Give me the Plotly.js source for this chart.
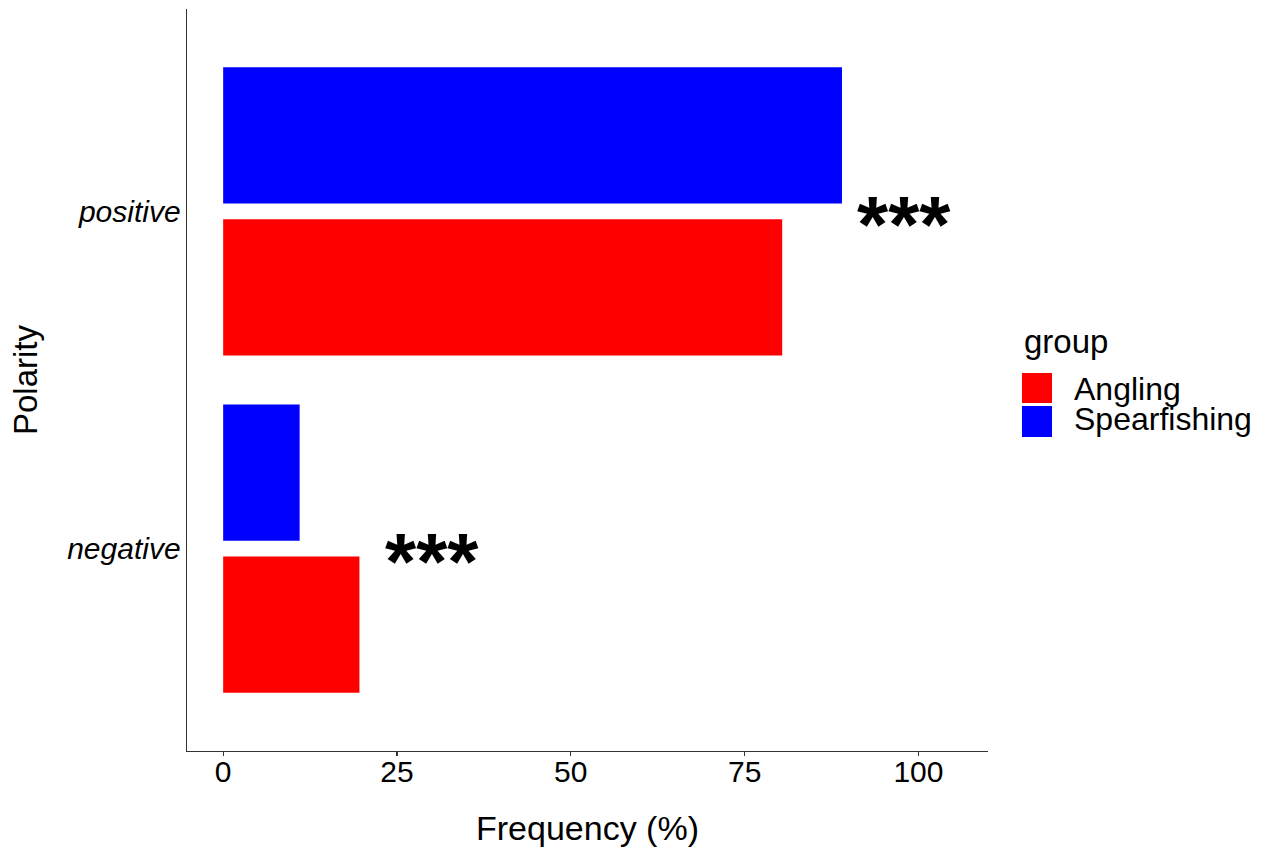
<!DOCTYPE html>
<html>
<head>
<meta charset="utf-8">
<script src="https://cdn.plot.ly/plotly-3.0.1.min.js"></script>
<style>
  html, body { margin: 0; padding: 0; background: #ffffff; }
  #chart { width: 1275px; height: 850px; }
</style>
</head>
<body>
<div id="chart"></div>
<script>
// ---- data ----
var categories = ["negative", "positive"];
var groups = ["Angling", "Spearfishing"];
var anglingValues = [19.6, 80.4];
var spearfishingValues = [11.0, 89.0];
var groupColors = ["#FF0000", "#0000FF"];
var sigLabels = ["***", "***"];
var sigX = [30.0, 97.9];
var xTicks = [0, 25, 50, 75, 100];

var FONT = "Liberation Sans, Arial, sans-serif";

var traces = [
  {
    type: "bar", orientation: "h", name: groups[0],
    y: categories, x: anglingValues,
    marker: { color: groupColors[0], line: { width: 0 } },
    hoverinfo: "x+y+name"
  },
  {
    type: "bar", orientation: "h", name: groups[1],
    y: categories, x: spearfishingValues,
    marker: { color: groupColors[1], line: { width: 0 } },
    hoverinfo: "x+y+name"
  }
];

var annotations = categories.map(function (c, i) {
  return {
    x: sigX[i], y: c, xref: "x", yref: "y",
    text: "<b>" + sigLabels[i] + "</b>", showarrow: false,
    xanchor: "center", yanchor: "middle", yshift: -13,
    font: { family: FONT, size: 80, color: "#000000" }
  };
});

// custom legend (large keys as in the reference)
annotations.push({
  x: 1.0424, y: 0.5519, xref: "paper", yref: "paper",
  text: "group", showarrow: false, xanchor: "left", yanchor: "middle",
  font: { family: FONT, size: 33, color: "#000000" }
});
var legendY = [0.4875, 0.4481];
groups.forEach(function (g, i) {
  annotations.push({
    x: 1.1049, y: legendY[i], xref: "paper", yref: "paper",
    text: g, showarrow: false, xanchor: "left", yanchor: "middle",
    font: { family: FONT, size: 32, color: "#000000" }
  });
});
var keyY = [[0.469, 0.5094], [0.4232, 0.4650]];
var shapes = groups.map(function (g, i) {
  return {
    type: "rect", xref: "paper", yref: "paper",
    x0: 1.0424, x1: 1.0799, y0: keyY[i][0], y1: keyY[i][1],
    fillcolor: groupColors[i], line: { width: 0 }
  };
});

var layout = {
  width: 1275, height: 850,
  margin: { l: 187, r: 287, t: 9, b: 99, pad: 0 },
  paper_bgcolor: "#ffffff", plot_bgcolor: "#ffffff",
  barmode: "group", bargap: 0.098, bargroupgap: 0.104,
  showlegend: false,
  font: { family: FONT, color: "#000000" },
  xaxis: {
    range: [-5.2, 110.0],
    tickvals: xTicks, ticktext: xTicks.map(String),
    ticks: "outside", ticklen: 4, tickwidth: 1.3, tickcolor: "#333333",
    showline: true, linecolor: "#333333", linewidth: 1.4,
    showgrid: false, zeroline: false,
    tickfont: { family: FONT, size: 30, color: "#000000" },
    ticklabelstandoff: -10,
    title: { text: "Frequency (%)", font: { family: FONT, size: 34, color: "#000000" }, standoff: 28 }
  },
  yaxis: {
    type: "category", categoryorder: "array", categoryarray: categories,
    range: [-0.6, 1.6],
    ticks: "", showline: true, linecolor: "#333333", linewidth: 1.4,
    showgrid: false, zeroline: false,
    tickfont: { family: FONT, size: 30, color: "#000000" },
    ticklabelstandoff: -1,
    title: { text: "Polarity", font: { family: FONT, size: 33, color: "#000000" }, standoff: 19 }
  },
  annotations: annotations,
  shapes: shapes
};

// italic category labels
layout.yaxis.tickvals = categories;
layout.yaxis.ticktext = categories.map(function (c) { return "<i>" + c + "</i>"; });

Plotly.newPlot("chart", traces, layout, { displayModeBar: false, staticPlot: true });
</script>
</body>
</html>
